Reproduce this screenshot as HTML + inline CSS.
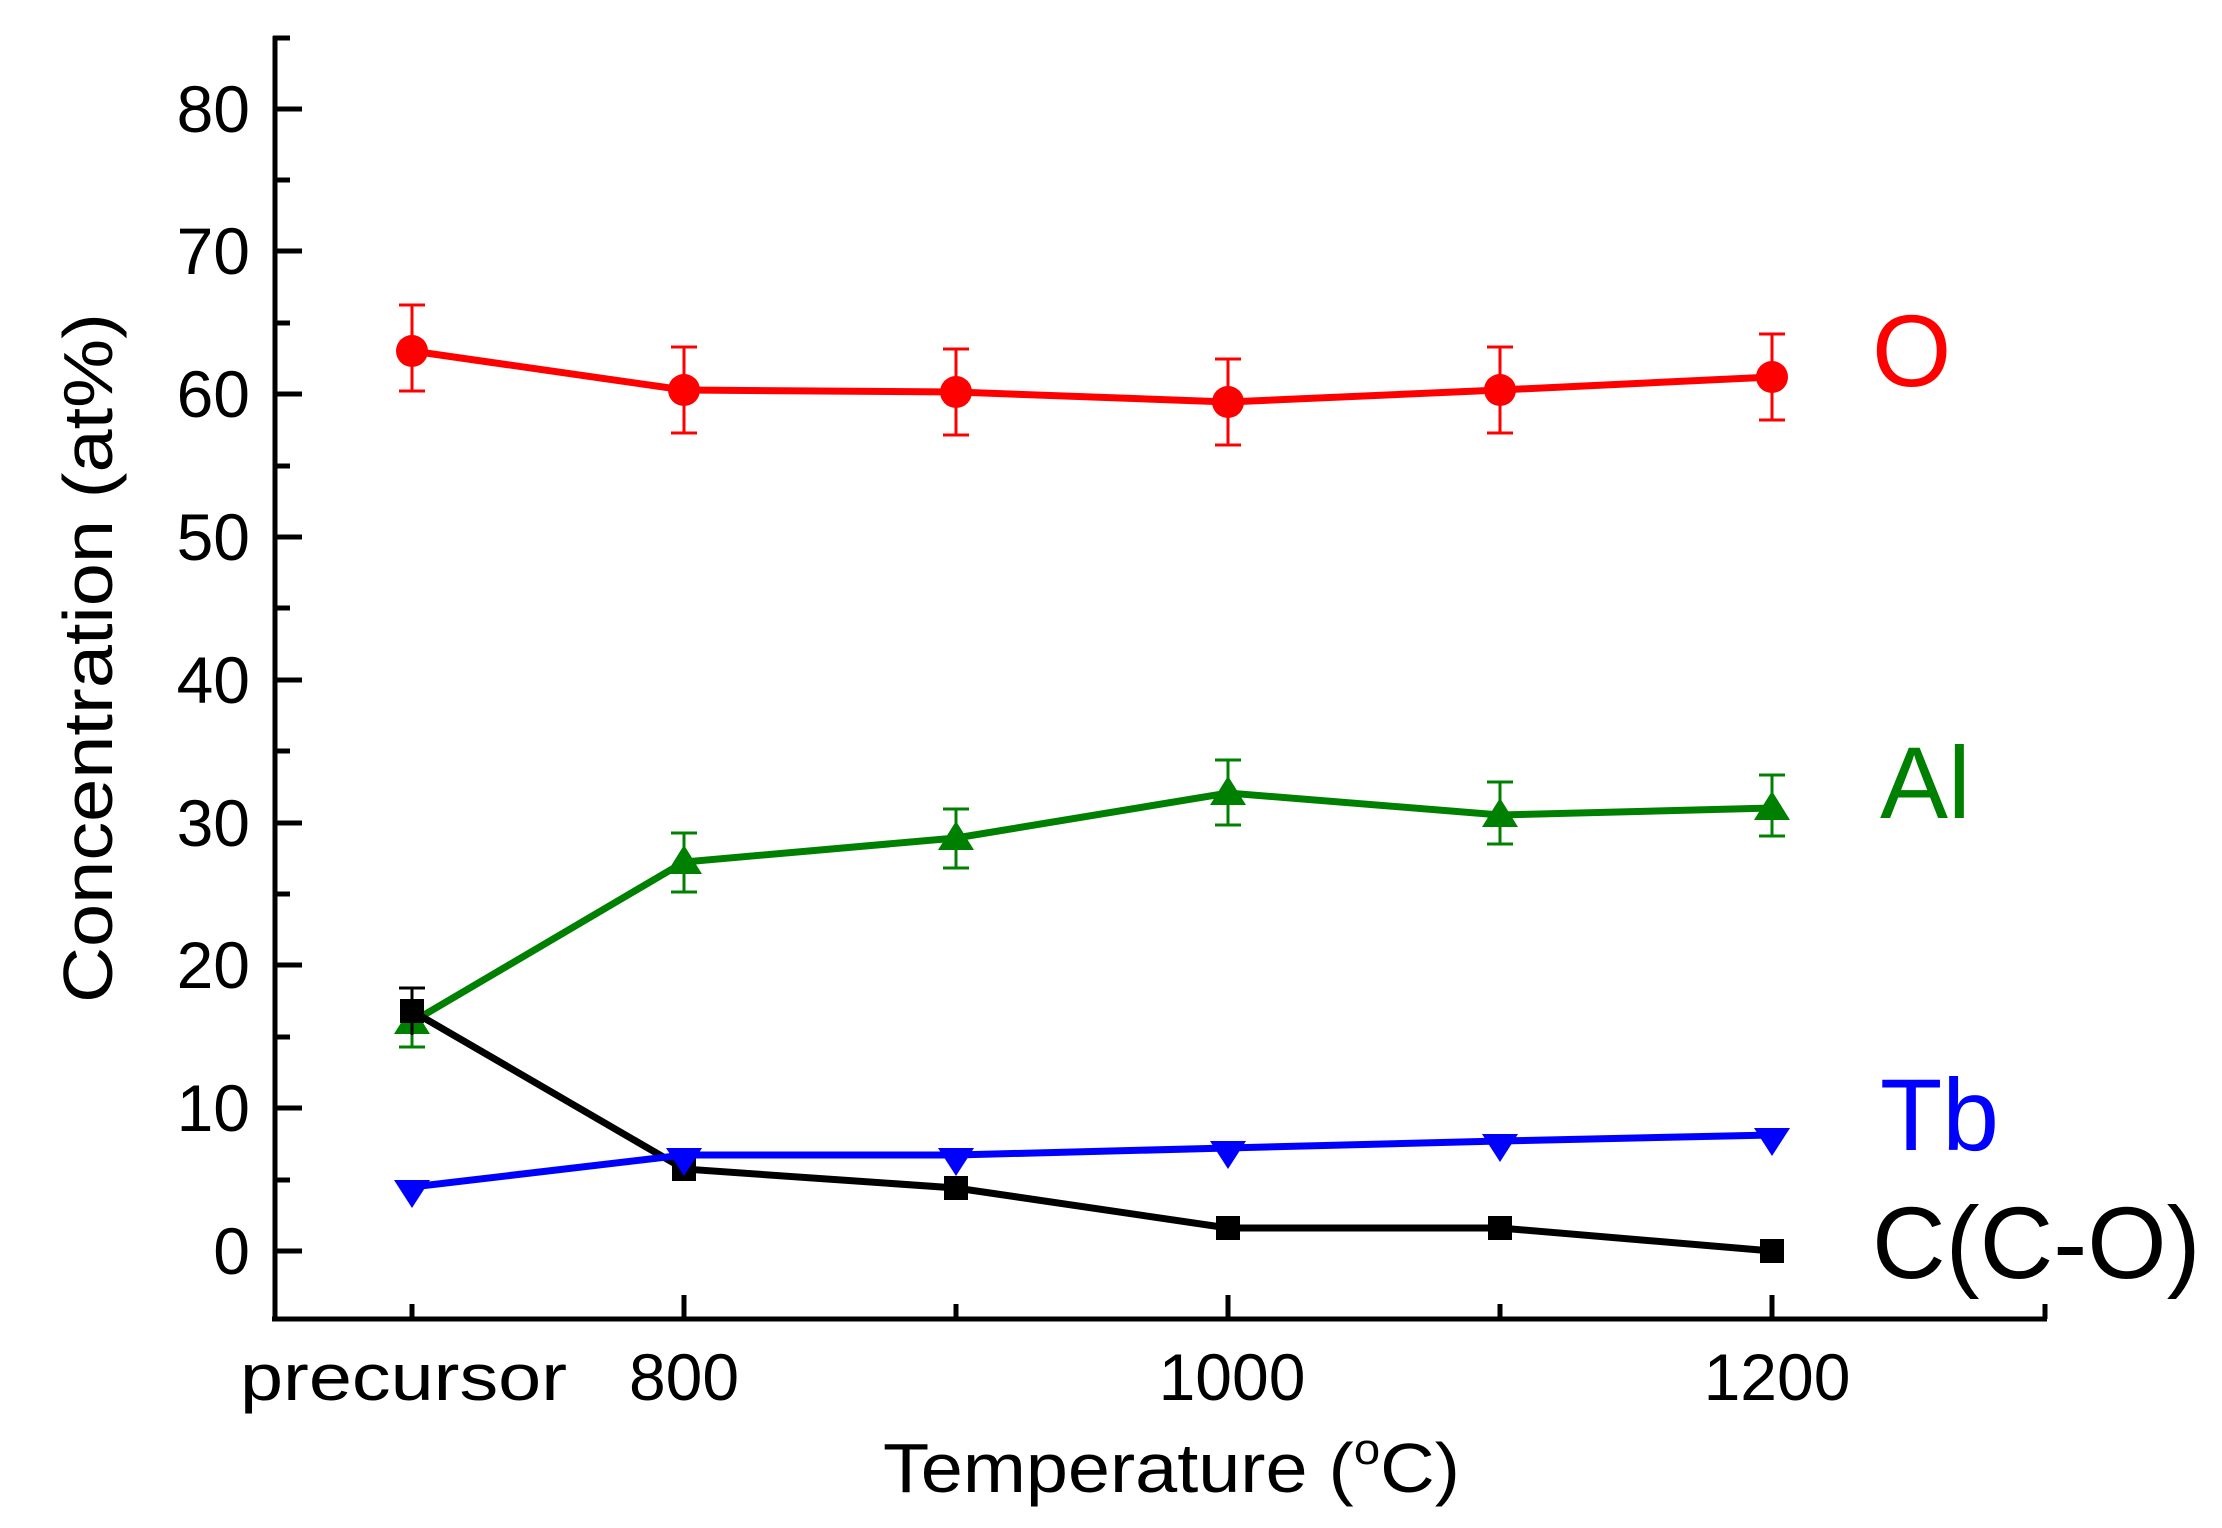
<!DOCTYPE html>
<html><head><meta charset="utf-8"><style>
html,body{margin:0;padding:0;background:#fff;}
svg{display:block;}
text{font-family:"Liberation Sans",Arial,sans-serif;}
</style></head><body>
<svg width="2222" height="1528" viewBox="0 0 2222 1528" xmlns="http://www.w3.org/2000/svg">
<g stroke="#000" stroke-width="5" fill="none">
<line x1="275" y1="36" x2="275" y2="1319"/>
<line x1="272" y1="1319" x2="2047" y2="1319"/>
<line x1="2045" y1="1319" x2="2045" y2="1304"/>
<line x1="273" y1="38" x2="290" y2="38"/>
</g>
<g stroke="#000" stroke-width="5">
<line x1="275" y1="1251" x2="302" y2="1251"/><line x1="275" y1="1180" x2="290" y2="1180"/>
<line x1="275" y1="1108" x2="302" y2="1108"/><line x1="275" y1="1037" x2="290" y2="1037"/>
<line x1="275" y1="965" x2="302" y2="965"/><line x1="275" y1="894" x2="290" y2="894"/>
<line x1="275" y1="823" x2="302" y2="823"/><line x1="275" y1="751" x2="290" y2="751"/>
<line x1="275" y1="680" x2="302" y2="680"/><line x1="275" y1="608" x2="290" y2="608"/>
<line x1="275" y1="537" x2="302" y2="537"/><line x1="275" y1="466" x2="290" y2="466"/>
<line x1="275" y1="394" x2="302" y2="394"/><line x1="275" y1="323" x2="290" y2="323"/>
<line x1="275" y1="251" x2="302" y2="251"/><line x1="275" y1="180" x2="290" y2="180"/>
<line x1="275" y1="109" x2="302" y2="109"/>
<line x1="412" y1="1319" x2="412" y2="1304"/>
<line x1="684" y1="1319" x2="684" y2="1295"/>
<line x1="956" y1="1319" x2="956" y2="1304"/>
<line x1="1228" y1="1319" x2="1228" y2="1295"/>
<line x1="1500" y1="1319" x2="1500" y2="1304"/>
<line x1="1772" y1="1319" x2="1772" y2="1295"/>
</g>
<g font-size="66" text-anchor="end" fill="#000">
<text x="250" y="1274">0</text><text x="250" y="1131">10</text><text x="250" y="988">20</text>
<text x="250" y="846">30</text><text x="250" y="703">40</text><text x="250" y="560">50</text>
<text x="250" y="417">60</text><text x="250" y="274">70</text><text x="250" y="132">80</text>
</g>
<g font-size="66" fill="#000">
<text x="240" y="1400" textLength="327" lengthAdjust="spacingAndGlyphs">precursor</text>
<text x="684" y="1400" text-anchor="middle">800</text>
<text x="1232" y="1400" text-anchor="middle">1000</text>
<text x="1777" y="1400" text-anchor="middle">1200</text>
<text x="883" y="1492" font-size="70" textLength="577" lengthAdjust="spacingAndGlyphs">Temperature (<tspan font-size="44" dy="-28">o</tspan><tspan dy="28">C)</tspan></text>
</g>
<text transform="translate(112,658) rotate(-90)" x="-345" y="0" font-size="70" fill="#000" textLength="690" lengthAdjust="spacingAndGlyphs">Concentration (at%)</text>

<!-- O red -->
<g stroke="#f00" stroke-width="3">
<line x1="412" y1="305" x2="412" y2="391"/><line x1="399" y1="305" x2="425" y2="305"/><line x1="399" y1="391" x2="425" y2="391"/>
<line x1="684" y1="347" x2="684" y2="433"/><line x1="671" y1="347" x2="697" y2="347"/><line x1="671" y1="433" x2="697" y2="433"/>
<line x1="956" y1="349" x2="956" y2="435"/><line x1="943" y1="349" x2="969" y2="349"/><line x1="943" y1="435" x2="969" y2="435"/>
<line x1="1228" y1="359" x2="1228" y2="445"/><line x1="1215" y1="359" x2="1241" y2="359"/><line x1="1215" y1="445" x2="1241" y2="445"/>
<line x1="1500" y1="347" x2="1500" y2="433"/><line x1="1487" y1="347" x2="1513" y2="347"/><line x1="1487" y1="433" x2="1513" y2="433"/>
<line x1="1772" y1="334" x2="1772" y2="420"/><line x1="1759" y1="334" x2="1785" y2="334"/><line x1="1759" y1="420" x2="1785" y2="420"/>
</g>
<polyline points="412,351 684,390 956,392 1228,402 1500,390 1772,377" fill="none" stroke="#f00" stroke-width="7"/>
<g fill="#f00"><circle cx="412" cy="351" r="16"/><circle cx="684" cy="390" r="16"/><circle cx="956" cy="392" r="16"/><circle cx="1228" cy="402" r="16"/><circle cx="1500" cy="390" r="16"/><circle cx="1772" cy="377" r="16"/></g>

<!-- Al green -->
<g stroke="#008000" stroke-width="3">
<line x1="412" y1="1000" x2="412" y2="1047"/><line x1="399" y1="1047" x2="425" y2="1047"/>
<line x1="684" y1="833" x2="684" y2="892"/><line x1="671" y1="833" x2="697" y2="833"/><line x1="671" y1="892" x2="697" y2="892"/>
<line x1="956" y1="809" x2="956" y2="868"/><line x1="943" y1="809" x2="969" y2="809"/><line x1="943" y1="868" x2="969" y2="868"/>
<line x1="1228" y1="760" x2="1228" y2="825"/><line x1="1215" y1="760" x2="1241" y2="760"/><line x1="1215" y1="825" x2="1241" y2="825"/>
<line x1="1500" y1="782" x2="1500" y2="844"/><line x1="1487" y1="782" x2="1513" y2="782"/><line x1="1487" y1="844" x2="1513" y2="844"/>
<line x1="1772" y1="775" x2="1772" y2="836"/><line x1="1759" y1="775" x2="1785" y2="775"/><line x1="1759" y1="836" x2="1785" y2="836"/>
</g>
<polyline points="412,1022 684,862 956,838 1228,793 1500,815 1772,808" fill="none" stroke="#008000" stroke-width="7"/>
<g fill="#008000">
<polygon points="412,1005 394,1034 430,1034"/><polygon points="684,845 666,874 702,874"/>
<polygon points="956,821 938,850 974,850"/><polygon points="1228,776 1210,805 1246,805"/>
<polygon points="1500,798 1482,827 1518,827"/><polygon points="1772,791 1754,820 1790,820"/>
</g>

<!-- C black -->
<g stroke="#000" stroke-width="3">
<line x1="412" y1="988" x2="412" y2="1035"/><line x1="399" y1="988" x2="425" y2="988"/>
</g>
<polyline points="412,1011 684,1169 956,1188 1228,1228 1500,1228 1772,1251" fill="none" stroke="#000" stroke-width="7"/>
<g fill="#000">
<rect x="400" y="999" width="24" height="24"/><rect x="672" y="1157" width="24" height="24"/>
<rect x="944" y="1176" width="24" height="24"/><rect x="1216" y="1216" width="24" height="24"/>
<rect x="1488" y="1216" width="24" height="24"/><rect x="1760" y="1239" width="24" height="24"/>
</g>

<!-- Tb blue -->
<polyline points="412,1187 684,1155 956,1155 1228,1148 1500,1141 1772,1135" fill="none" stroke="#00f" stroke-width="7"/>
<g fill="#00f">
<polygon points="394,1180 430,1180 412,1208"/><polygon points="666,1148 702,1148 684,1176"/>
<polygon points="938,1148 974,1148 956,1176"/><polygon points="1210,1141 1246,1141 1228,1169"/>
<polygon points="1482,1134 1518,1134 1500,1162"/><polygon points="1754,1128 1790,1128 1772,1156"/>
</g>

<text x="1872" y="386" font-size="102" fill="#f00">O</text>
<text x="1880" y="818" font-size="102" fill="#008000">Al</text>
<text x="1880" y="1150" font-size="102" fill="#00f">Tb</text>
<text x="1872" y="1278" font-size="102" fill="#000">C(C-O)</text>
</svg>
</body></html>
